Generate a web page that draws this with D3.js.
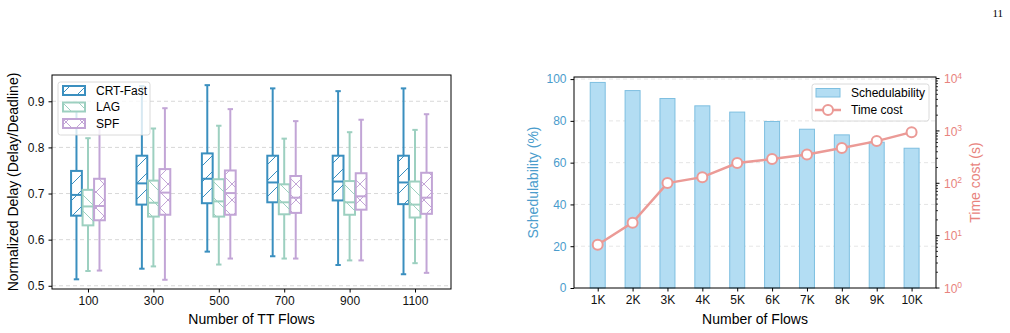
<!DOCTYPE html>
<html>
<head>
<meta charset="utf-8">
<script src="https://cdn.jsdelivr.net/npm/d3@7"></script>
<style>
body { margin: 0; background: #fff; }
svg { font-family: "Liberation Sans", Arial, sans-serif; }
</style>
</head>
<body>
<svg id="fig" width="1010" height="333"></svg>
<script>
// 왼쪽: 박스플롯 데이터
const flowGroups = ["100", "300", "500", "700", "900", "1100"];
const methods = ["CRT-Fast", "LAG", "SPF"];

const crtLow  = [0.514, 0.537, 0.574, 0.564, 0.545, 0.525];
const crtQ1   = [0.652, 0.676, 0.679, 0.681, 0.685, 0.677];
const crtMed  = [0.697, 0.722, 0.732, 0.724, 0.726, 0.724];
const crtQ3   = [0.749, 0.782, 0.787, 0.782, 0.782, 0.782];
const crtHigh = [0.880, 0.933, 0.935, 0.928, 0.922, 0.928];

const lagLow  = [0.532, 0.542, 0.546, 0.559, 0.555, 0.549];
const lagQ1   = [0.631, 0.650, 0.650, 0.655, 0.654, 0.648];
const lagMed  = [0.672, 0.680, 0.683, 0.681, 0.681, 0.676];
const lagQ3   = [0.708, 0.728, 0.731, 0.720, 0.727, 0.726];
const lagHigh = [0.820, 0.841, 0.847, 0.819, 0.833, 0.838];

const spfLow  = [0.533, 0.513, 0.559, 0.559, 0.555, 0.528];
const spfQ1   = [0.642, 0.654, 0.654, 0.658, 0.665, 0.656];
const spfMed  = [0.673, 0.702, 0.701, 0.691, 0.694, 0.691];
const spfQ3   = [0.732, 0.753, 0.750, 0.738, 0.744, 0.745];
const spfHigh = [0.860, 0.885, 0.883, 0.857, 0.860, 0.872];

const delayTicks = [0.5, 0.6, 0.7, 0.8, 0.9];

// 오른쪽: 막대 + 선 데이터
const flowSizes = ["1K", "2K", "3K", "4K", "5K", "6K", "7K", "8K", "9K", "10K"];
const schedulability = [98.4, 94.5, 90.7, 87.2, 84.2, 79.7, 76.0, 73.3, 69.8, 66.9];
const timeCost = [6.7, 17.7, 101, 131, 243, 290, 356, 470, 639, 948];
const schedTicks = [0, 20, 40, 60, 80, 100];
const timeTicks = [1, 10, 100, 1000, 10000];

const svg = d3.select("#fig");

// 페이지 번호
svg.append("text")
	.attr("x", 1003).attr("y", 17)
	.attr("text-anchor", "end")
	.style("font-family", "'Liberation Serif', 'Times New Roman', serif")
	.style("font-size", "11px")
	.text("11");

/////////////////////////////////////////////////////////////////////////////////
// 왼쪽 박스플롯
const L = {left: 52, right: 451, top: 75, bottom: 289};
const bx = d3.scaleLinear().domain([-0.55, 5.55]).range([L.left, L.right]);
const by = d3.scaleLinear().domain([0.493, 0.957]).range([L.bottom, L.top]);

const boxColors = ["#3a8fbf", "#9dd0c0", "#c2a5d6"];
const hatchTypes = ["fwd", "back", "cross"];

const defs = svg.append("defs");
hatchTypes.forEach((h, i) => {
	const p = defs.append("pattern")
		.attr("id", "hatch-" + h)
		.attr("patternUnits", "userSpaceOnUse")
		.attr("width", 16).attr("height", 16);
	p.append("rect").attr("width", 16).attr("height", 16).attr("fill", "#fff");
	const g = p.append("g").attr("stroke", boxColors[i]).attr("stroke-width", 1);
	if (h === "fwd" || h === "cross") {
		g.append("line").attr("x1", 0).attr("y1", 16).attr("x2", 16).attr("y2", 0);
		g.append("line").attr("x1", -2).attr("y1", 2).attr("x2", 2).attr("y2", -2);
		g.append("line").attr("x1", 14).attr("y1", 18).attr("x2", 18).attr("y2", 14);
	}
	if (h === "back" || h === "cross") {
		g.append("line").attr("x1", 0).attr("y1", 0).attr("x2", 16).attr("y2", 16);
		g.append("line").attr("x1", -2).attr("y1", 14).attr("x2", 2).attr("y2", 18);
		g.append("line").attr("x1", 14).attr("y1", -2).attr("x2", 18).attr("y2", 2);
	}
});

const left = svg.append("g");

// 격자선
left.selectAll(".grid")
	.data(delayTicks)
	.join("line")
	.attr("x1", L.left).attr("x2", L.right)
	.attr("y1", d => by(d)).attr("y2", d => by(d))
	.attr("stroke", "#d4d4d4")
	.attr("stroke-width", 0.9)
	.attr("stroke-dasharray", "4,3");

const series = [
	{low: crtLow, q1: crtQ1, med: crtMed, q3: crtQ3, high: crtHigh},
	{low: lagLow, q1: lagQ1, med: lagMed, q3: lagQ3, high: lagHigh},
	{low: spfLow, q1: spfQ1, med: spfMed, q3: spfQ3, high: spfHigh}
];
const offset = 0.176, boxW = 0.165;

series.forEach((s, si) => {
	const g = left.append("g");
	const col = boxColors[si];
	flowGroups.forEach((f, i) => {
		const c = i + (si - 1) * offset;
		const x0 = bx(c - boxW / 2), x1 = bx(c + boxW / 2);
		const xm = bx(c);
		const capW = (x1 - x0) / 2;
		// 수염
		g.append("line").attr("x1", xm).attr("x2", xm)
			.attr("y1", by(s.low[i])).attr("y2", by(s.q1[i]))
			.attr("stroke", col).attr("stroke-width", 2);
		g.append("line").attr("x1", xm).attr("x2", xm)
			.attr("y1", by(s.q3[i])).attr("y2", by(s.high[i]))
			.attr("stroke", col).attr("stroke-width", 2);
		[s.low[i], s.high[i]].forEach(v => {
			g.append("line").attr("x1", xm - capW / 2).attr("x2", xm + capW / 2)
				.attr("y1", by(v)).attr("y2", by(v))
				.attr("stroke", col).attr("stroke-width", 2);
		});
		// 박스
		g.append("rect")
			.attr("x", x0).attr("y", by(s.q3[i]))
			.attr("width", x1 - x0).attr("height", by(s.q1[i]) - by(s.q3[i]))
			.attr("fill", `url(#hatch-${hatchTypes[si]})`)
			.attr("stroke", col).attr("stroke-width", 2);
		g.append("line").attr("x1", x0).attr("x2", x1)
			.attr("y1", by(s.med[i])).attr("y2", by(s.med[i]))
			.attr("stroke", col).attr("stroke-width", 2);
	});
});

// 축
left.append("g")
	.attr("transform", `translate(0,${L.bottom})`)
	.call(d3.axisBottom(bx).tickValues(d3.range(flowGroups.length)).tickFormat(i => flowGroups[i]).tickSize(3.5).tickPadding(4))
	.call(g => g.select(".domain").remove())
	.call(g => g.selectAll("text").style("font-size", "12px").attr("fill", "#111"));
left.append("g")
	.attr("transform", `translate(${L.left},0)`)
	.call(d3.axisLeft(by).tickValues(delayTicks).tickFormat(d3.format(".1f")).tickSize(3.5).tickPadding(4))
	.call(g => g.select(".domain").remove())
	.call(g => g.selectAll("text").style("font-size", "12px").attr("fill", "#111"));

left.append("rect")
	.attr("x", L.left).attr("y", L.top)
	.attr("width", L.right - L.left).attr("height", L.bottom - L.top)
	.attr("fill", "none").attr("stroke", "#000").attr("stroke-width", 1);

left.append("text")
	.attr("x", (L.left + L.right) / 2).attr("y", 324)
	.attr("text-anchor", "middle")
	.style("font-size", "14px")
	.text("Number of TT Flows");
left.append("text")
	.attr("transform", `translate(18,${(L.top + L.bottom) / 2}) rotate(-90)`)
	.attr("text-anchor", "middle")
	.style("font-size", "14px")
	.text("Normalized Delay (Delay/Deadline)");

// 범례
const lg = left.append("g").attr("transform", "translate(58,82)");
lg.append("rect")
	.attr("width", 92).attr("height", 53).attr("rx", 2.5)
	.attr("fill", "#fff").attr("fill-opacity", 0.8)
	.attr("stroke", "#d0d0d0").attr("stroke-width", 0.8);
methods.forEach((m, i) => {
	lg.append("rect")
		.attr("x", 5).attr("y", 4 + i * 16.5)
		.attr("width", 22).attr("height", 9)
		.attr("fill", `url(#hatch-${hatchTypes[i]})`)
		.attr("stroke", boxColors[i]).attr("stroke-width", 2);
	lg.append("text")
		.attr("x", 38).attr("y", 8.5 + i * 16.5)
		.attr("dy", "0.35em")
		.style("font-size", "12px")
		.text(m);
});

/////////////////////////////////////////////////////////////////////////////////
// 오른쪽 막대 + 선 차트
const R = {left: 574, right: 936, top: 77, bottom: 288};
const rx = d3.scaleLinear().domain([-0.68, 9.7]).range([R.left, R.right]);
const ryL = d3.scaleLinear().domain([0, 101]).range([R.bottom, R.top]);
const ryR = d3.scaleLog().domain([1, Math.pow(10, 4.03)]).range([R.bottom, R.top]);

const blueText = "#4a9ccc";
const salmonText = "#e8837d";
const lineColor = "#eb9a96";

const right = svg.append("g");

right.selectAll(".rgrid")
	.data(schedTicks.slice(1))
	.join("line")
	.attr("x1", R.left).attr("x2", R.right)
	.attr("y1", d => ryL(d)).attr("y2", d => ryL(d))
	.attr("stroke", "#e2e2e2")
	.attr("stroke-width", 0.9)
	.attr("stroke-dasharray", "4,3");

const barW = 0.43;
right.selectAll(".bar")
	.data(schedulability)
	.join("rect")
	.attr("x", (d, i) => rx(i - barW / 2))
	.attr("y", d => ryL(d))
	.attr("width", rx(barW) - rx(0))
	.attr("height", d => ryL(0) - ryL(d))
	.attr("fill", "#b3ddf3")
	.attr("stroke", "#7ebfe0")
	.attr("stroke-width", 1);

const line = d3.line()
	.x((d, i) => rx(i))
	.y(d => ryR(d));
right.append("path")
	.datum(timeCost)
	.attr("d", line)
	.attr("fill", "none")
	.attr("stroke", lineColor)
	.attr("stroke-width", 2.5);
right.selectAll(".pt")
	.data(timeCost)
	.join("circle")
	.attr("cx", (d, i) => rx(i))
	.attr("cy", d => ryR(d))
	.attr("r", 5)
	.attr("fill", "#fff")
	.attr("stroke", lineColor)
	.attr("stroke-width", 2);

right.append("g")
	.attr("transform", `translate(0,${R.bottom})`)
	.call(d3.axisBottom(rx).tickValues(d3.range(flowSizes.length)).tickFormat(i => flowSizes[i]).tickSize(3.5).tickPadding(4))
	.call(g => g.select(".domain").remove())
	.call(g => g.selectAll("text").style("font-size", "12px").attr("fill", "#111"));
right.append("g")
	.attr("transform", `translate(${R.left},0)`)
	.call(d3.axisLeft(ryL).tickValues(schedTicks).tickSize(3.5).tickPadding(4))
	.call(g => g.select(".domain").remove())
	.call(g => g.selectAll("text").style("font-size", "12px").attr("fill", blueText));

// 로그 축 (보조 눈금 포함)
const minorTicks = [];
for (let e = 0; e < 4; e++) {
	for (let k = 2; k <= 9; k++) minorTicks.push(k * Math.pow(10, e));
}
const rAxis = right.append("g").attr("transform", `translate(${R.right},0)`);
rAxis.selectAll(".minor")
	.data(minorTicks)
	.join("line")
	.attr("x1", 0).attr("x2", 2)
	.attr("y1", d => ryR(d)).attr("y2", d => ryR(d))
	.attr("stroke", "#000").attr("stroke-width", 0.8);
rAxis.selectAll(".major")
	.data(timeTicks)
	.join("line")
	.attr("x1", 0).attr("x2", 3.5)
	.attr("y1", d => ryR(d)).attr("y2", d => ryR(d))
	.attr("stroke", "#000").attr("stroke-width", 1);
const tl = rAxis.selectAll(".tl")
	.data(timeTicks)
	.join("text")
	.attr("x", 8)
	.attr("y", d => ryR(d))
	.attr("dy", "0.4em")
	.attr("fill", salmonText)
	.style("font-size", "12px");
tl.append("tspan").text("10");
tl.append("tspan")
	.attr("dy", "-0.55em")
	.style("font-size", "8.5px")
	.text(d => Math.round(Math.log10(d)));

right.append("rect")
	.attr("x", R.left).attr("y", R.top)
	.attr("width", R.right - R.left).attr("height", R.bottom - R.top)
	.attr("fill", "none").attr("stroke", "#000").attr("stroke-width", 1);

right.append("text")
	.attr("x", (R.left + R.right) / 2).attr("y", 324)
	.attr("text-anchor", "middle")
	.style("font-size", "14px")
	.text("Number of Flows");
right.append("text")
	.attr("transform", `translate(538,${(R.top + R.bottom) / 2}) rotate(-90)`)
	.attr("text-anchor", "middle")
	.attr("fill", blueText)
	.style("font-size", "14px")
	.text("Schedulability (%)");
right.append("text")
	.attr("transform", `translate(980,${(R.top + R.bottom) / 2}) rotate(-90)`)
	.attr("text-anchor", "middle")
	.attr("fill", salmonText)
	.style("font-size", "14px")
	.text("Time cost (s)");

// 범례
const rl = right.append("g").attr("transform", "translate(812,84)");
rl.append("rect")
	.attr("width", 117).attr("height", 37).attr("rx", 2.5)
	.attr("fill", "#fff").attr("fill-opacity", 0.8)
	.attr("stroke", "#d0d0d0").attr("stroke-width", 0.8);
rl.append("rect")
	.attr("x", 4).attr("y", 4.5)
	.attr("width", 24).attr("height", 8.5)
	.attr("fill", "#b3ddf3").attr("stroke", "#7ebfe0").attr("stroke-width", 1);
rl.append("text")
	.attr("x", 39).attr("y", 9).attr("dy", "0.35em")
	.style("font-size", "12px")
	.text("Schedulability");
rl.append("line")
	.attr("x1", 3).attr("x2", 29).attr("y1", 26).attr("y2", 26)
	.attr("stroke", lineColor).attr("stroke-width", 2.5);
rl.append("circle")
	.attr("cx", 16).attr("cy", 26).attr("r", 5)
	.attr("fill", "#fff").attr("stroke", lineColor).attr("stroke-width", 2);
rl.append("text")
	.attr("x", 39).attr("y", 26).attr("dy", "0.35em")
	.style("font-size", "12px")
	.text("Time cost");
</script>
</body>
</html>
